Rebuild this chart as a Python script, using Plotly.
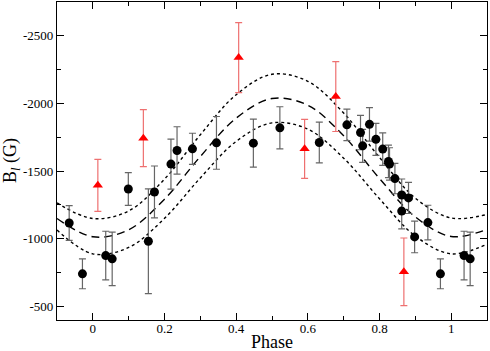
import plotly.graph_objects as go

# --- observations (black circles) -------------------------------------------
ph_k = [-0.066, -0.029, 0.036, 0.054, 0.099, 0.155, 0.172, 0.218, 0.235, 0.278,
        0.345, 0.448, 0.522, 0.632, 0.709, 0.747, 0.753, 0.772, 0.790, 0.809,
        0.825, 0.828, 0.843, 0.862, 0.881, 0.862, 0.898, 0.935, 0.970, 1.036, 1.053]
bl_k = [-1117, -741, -876, -852, -1368, -982, -1346, -1552, -1653, -1665,
        -1709, -1707, -1820, -1712, -1842, -1785, -1687, -1846, -1735, -1663,
        -1572, -1553, -1445, -1324, -1302, -1205, -1014, -1120, -741, -876, -852]
er_k = [128, 110, 180, 198, 121, 387, 192, 185, 175, 115,
        195, 178, 156, 151, 117, 127, 122, 124, 118, 120,
        120, 120, 112, 118, 115, 132, 117, 128, 110, 180, 198]

# --- observations (red triangles) -------------------------------------------
ph_r = [0.014, 0.141, 0.407, 0.591, 0.678, 0.868]
bl_r = [-1395, -1744, -2339, -1665, -2051, -756]
er_r = [192, 210, 258, 218, 258, 250]

# --- fitted curve and its envelope, read at 0.1 phase steps ------------------
ph_fit = [-0.1, 0.0, 0.1, 0.2, 0.3, 0.4, 0.5, 0.6, 0.7, 0.8, 0.9, 1.0, 1.1]
fit_mid = [-1150, -1015, -1067, -1293, -1608, -1892, -2037, -1987, -1761, -1446, -1162, -1017, -1070]
fit_hi = [-1265, -1150, -1206, -1441, -1769, -2065, -2216, -2164, -1929, -1601, -1300, -1154, -1180]
fit_lo = [-1065, -889, -936, -1151, -1450, -1720, -1857, -1810, -1596, -1296, -1020, -889, -960]

y_ticks = [-2500, -2000, -1500, -1000, -500]
y_text = ["-2500", "-2000", "-1500", "-1000", "-500"]

fig = go.Figure()

for ys, dash in [(fit_hi, "dot"), (fit_lo, "dot"), (fit_mid, "8px,5px")]:
    fig.add_trace(go.Scatter(x=ph_fit, y=ys, mode="lines",
                             line=dict(color="black", width=1.4, dash=dash, shape="spline"),
                             hoverinfo="skip", showlegend=False))

fig.add_trace(go.Scatter(
    x=ph_k, y=bl_k, mode="markers",
    marker=dict(symbol="circle", size=9, color="black"),
    error_y=dict(type="data", array=er_k, color="#666666", thickness=1.2, width=3.5),
    showlegend=False))

fig.add_trace(go.Scatter(
    x=ph_r, y=bl_r, mode="markers",
    marker=dict(symbol="triangle-up", size=9, color="#ff0000"),
    error_y=dict(type="data", array=er_r, color="#ee7070", thickness=1.2, width=3.5),
    showlegend=False))

axis_font = dict(family="Liberation Serif", size=13, color="black")
title_font = dict(family="Liberation Serif", size=18, color="black")
fig.update_layout(
    width=490, height=351,
    margin=dict(l=57, r=3, t=2, b=31),
    plot_bgcolor="white", paper_bgcolor="white",
    font=dict(family="Liberation Serif", color="black"),
    xaxis=dict(range=[-0.1, 1.1], dtick=0.2, tick0=0, showgrid=False, zeroline=False,
               showline=True, linecolor="black", linewidth=1.2, mirror="ticks",
               ticks="inside", ticklen=7, tickcolor="black", tickfont=axis_font,
               automargin=False, ticklabelstandoff=-4,
               minor=dict(dtick=0.1, ticks="inside", ticklen=4, tickcolor="black", showgrid=False)),
    yaxis=dict(range=[-400, -2750], tickvals=y_ticks, ticktext=y_text, showgrid=False,
               zeroline=False, showline=True, linecolor="black", linewidth=1.2, mirror="ticks",
               ticks="inside", ticklen=7, tickcolor="black", tickfont=axis_font,
               automargin=False,
               minor=dict(dtick=250, tick0=0, ticks="inside", ticklen=4, tickcolor="black", showgrid=False)),
    annotations=[
        dict(text="Phase", xref="paper", yref="paper", x=0.5, y=0, yshift=-22,
             xanchor="center", yanchor="middle", showarrow=False, font=title_font),
        dict(text="B<sub><i>l</i></sub> (G)", xref="paper", yref="paper", x=0, y=0.5,
             xshift=-46, xanchor="center", yanchor="middle", textangle=-90,
             showarrow=False, font=title_font),
    ],
)

# page body has a default 8px margin; drop it so the figure sits at the corner
fig.write_html("out.html", config={"displayModeBar": False},
               post_script="document.body.style.margin='0';")
